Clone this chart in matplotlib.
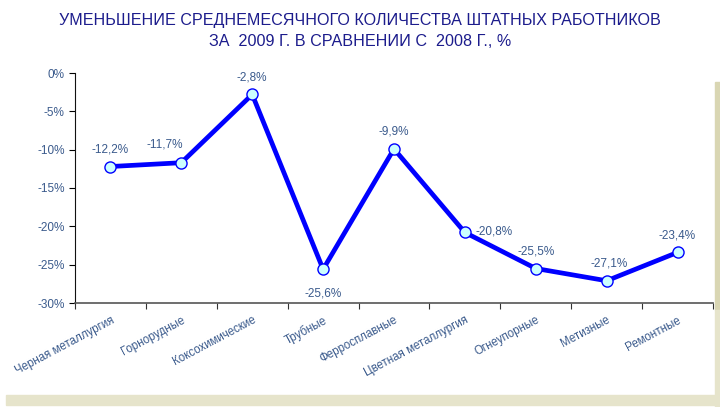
import matplotlib
matplotlib.use('Agg')
import matplotlib.pyplot as plt
from matplotlib.patches import Rectangle
import numpy as np

plt.rcParams['font.family'] = ['Liberation Sans', 'DejaVu Sans']

# Data
categories = ['Черная металлургия', 'Горнорудные', 'Коксохимические', 'Трубные',
              'Ферросплавные', 'Цветная металлургия', 'Огнеупорные', 'Метизные', 'Ремонтные']
values = [-12.2, -11.7, -2.8, -25.6, -9.9, -20.8, -25.5, -27.1, -23.4]
y_ticks = [0, -5, -10, -15, -20, -25, -30]

title_color = '#1C1C8C'
label_color = '#3A5A8C'

fig = plt.figure(figsize=(7.2, 4.07), dpi=100)

# beige frame strips on the right and bottom
fig.patches.append(Rectangle((715/720, 1 - 310/407), 5/720, (310 - 82)/407,
                             transform=fig.transFigure, color='#D9D6B3', zorder=0))
fig.patches.append(Rectangle((715/720, 0), 5/720, 1 - 310/407,
                             transform=fig.transFigure, color='#E6E4CB', zorder=0))
fig.patches.append(Rectangle((6/720, 2/407), 709/720, 10/407,
                             transform=fig.transFigure, color='#E6E4CB', zorder=0))

ax = fig.add_axes([75/720, 1 - 303/407, (713 - 75)/720, (303 - 73)/407])
ax.patch.set_alpha(0)

x = np.arange(len(categories))
ax.plot(x, values, '-', color='#0000FF', linewidth=3.4, zorder=3,
        marker='o', markersize=8, markerfacecolor='#CCFFFF',
        markeredgecolor='#0000FF', markeredgewidth=1.0)

# data labels
offsets = {1: (-12, 9, 'center', 'bottom'),
           3: (0, -13, 'center', 'top'),
           5: (8, 1, 'left', 'center'),
           7: (2, 8, 'center', 'bottom')}
for i, v in enumerate(values):
    dx, dy, ha, va = offsets.get(i, (0, 8, 'center', 'bottom'))
    ax.annotate(f'{v:.1f}%'.replace('.', ','), (i, v), xytext=(dx, dy),
                textcoords='offset points', ha=ha, va=va,
                fontsize=8.5, color=label_color)

ax.set_xlim(-0.5, len(categories) - 0.5)
ax.set_ylim(-30, 0)
ax.set_yticks(y_ticks)
ax.set_yticklabels([f'{t}%' for t in y_ticks])
ax.set_xticks(np.arange(len(categories) + 1) - 0.5)
ax.set_xticklabels([])
ax.set_xticks(x, minor=True)
ax.set_xticklabels(categories, minor=True, rotation=28, ha='right',
                   rotation_mode='anchor', fontsize=8.3, color=label_color)
ax.tick_params(axis='x', which='minor', length=0, pad=8)
ax.tick_params(axis='x', which='major', length=4, direction='out', color='#333333')
ax.tick_params(axis='y', length=4, direction='out', labelsize=8.5, labelcolor=label_color)

for s in ['top', 'right']:
    ax.spines[s].set_visible(False)
ax.spines['left'].set_color('#111111')
ax.spines['bottom'].set_color('#555555')
ax.spines['bottom'].set_linewidth(1.2)

fig.text(0.5, 1 - 20/407, 'УМЕНЬШЕНИЕ СРЕДНЕМЕСЯЧНОГО КОЛИЧЕСТВА ШТАТНЫХ РАБОТНИКОВ',
         ha='center', va='center', fontsize=11.6, color=title_color)
fig.text(0.5, 1 - 41/407, 'ЗА  2009 Г. В СРАВНЕНИИ С  2008 Г., %',
         ha='center', va='center', fontsize=11.6, color=title_color)

fig.savefig('out.png', dpi=100)
